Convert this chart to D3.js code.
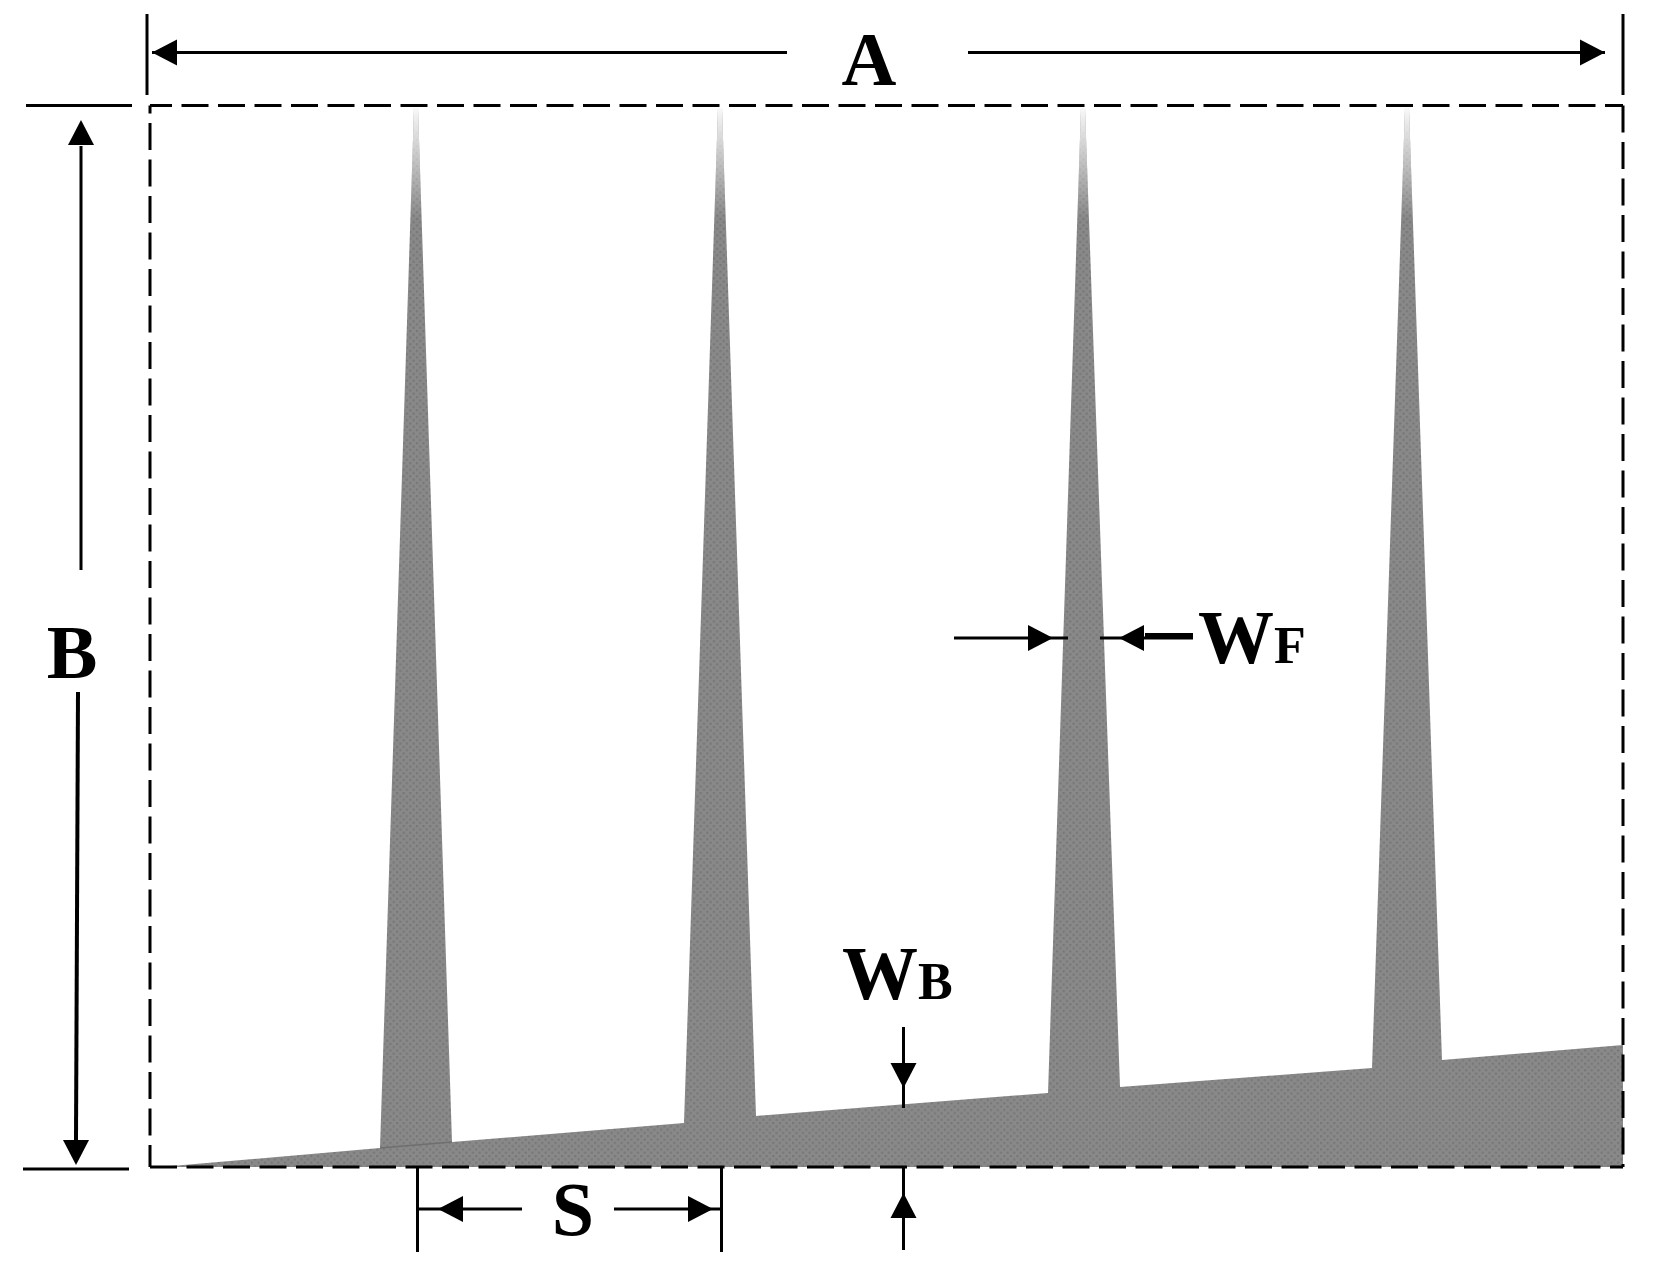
<!DOCTYPE html>
<html>
<head>
<meta charset="utf-8">
<script src="https://cdn.jsdelivr.net/npm/d3@7"></script>
<style>
  html, body { margin: 0; padding: 0; background: #fff; }
  text { font-family: "Liberation Serif", serif; font-weight: bold; fill: #000; }
</style>
</head>
<body>
<div id="chart"></div>
<script>
// profile values, in drawing units (A wide, B high)
const boxA = 1473;
const boxB = 1061.5;
const baseStart = 10;
const baseEndHeight = 122;
const finTip = [266, 570, 933, 1257];
const finTipHeight = [1059, 1059, 1059, 1059];
const finFootLeft = [230, 534, 898, 1222];
const finFootRight = [302, 606, 970, 1292];
const finFootLeftHeight = [19, 44, 74, 99];
const finFootRightHeight = [25, 51, 80, 107];

// dimension lines: [u1, v1, u2, v2]
const extensionLines = [
  [-3, 1153, -3, 1072], [1473, 1153, 1473, 1072],
  [-124, 1061.5, -18, 1061.5], [-127, -2, -21, -2],
  [267.5, 0, 267.5, -85], [571.5, 0, 571.5, -85]
];
const dimensionLines = [
  [2, 1114.5, 637, 1114.5], [818, 1114.5, 1455, 1114.5],
  [-69, 1021, -69, 597],
  [267.5, -42, 372, -42], [464, -42, 571.5, -42],
  [804, 529, 918, 529], [950, 529, 1043, 529],
  [753.5, 140, 753.5, 59], [753.5, -1, 753.5, -83]
];
const heavyLines = [[-72, 475, -74, 27]];
const stubLines = [[995, 531, 1043, 531]];
// arrowheads: tip position and direction
const arrowTipU = [2, 1455, -69, -74, 288, 563, 903, 969, 753.5, 753.5];
const arrowTipV = [1114.5, 1114.5, 1047, 2, -42, -42, 529, 529, 79, -26];
const arrowDir = ['left', 'right', 'up', 'down', 'left', 'right', 'right', 'left', 'down', 'up'];

const labels = [
  { text: 'A', u: 719, v: 1082.5, anchor: 'middle' },
  { text: 'B', u: -78, v: 489, anchor: 'middle' },
  { text: 'S', u: 423, v: -68, anchor: 'middle' },
  { text: 'W', sub: 'F', u: 1048, v: 504, anchor: 'start' },
  { text: 'W', sub: 'B', u: 692, v: 168, anchor: 'start' }
];

const width = 1656, height = 1263;
const x = d3.scaleLinear().domain([0, boxA]).range([150, 1623]);
const y = d3.scaleLinear().domain([0, boxB]).range([1167, 105.5]);

const svg = d3.select('#chart').append('svg')
  .attr('width', width).attr('height', height)
  .style('display', 'block');

const defs = svg.append('defs');
const stipple = defs.append('pattern').attr('id', 'stipple')
  .attr('width', 6.6).attr('height', 6.6).attr('patternUnits', 'userSpaceOnUse');
stipple.append('rect').attr('width', 6.6).attr('height', 6.6).attr('fill', '#898989');
stipple.append('rect').attr('x', 0).attr('y', 0).attr('width', 2.2).attr('height', 2.2).attr('fill', '#777777');
stipple.append('rect').attr('x', 3.3).attr('y', 3.3).attr('width', 2.2).attr('height', 2.2).attr('fill', '#777777');

const fade = defs.append('linearGradient').attr('id', 'tipFade')
  .attr('gradientUnits', 'userSpaceOnUse')
  .attr('x1', 0).attr('x2', 0).attr('y1', y(finTipHeight[0])).attr('y2', y(finTipHeight[0]) + 110);
fade.append('stop').attr('offset', 0).attr('stop-color', '#fff').attr('stop-opacity', 0.95);
fade.append('stop').attr('offset', 1).attr('stop-color', '#fff').attr('stop-opacity', 0);

// section outline, left to right along the base and over each fin
const outline = [[baseStart, 0]];
finTip.forEach((t, i) => {
  outline.push([finFootLeft[i], finFootLeftHeight[i]]);
  outline.push([t - 2, finTipHeight[i]]);
  outline.push([t + 2, finTipHeight[i]]);
  outline.push([finFootRight[i], finFootRightHeight[i]]);
});
outline.push([boxA, baseEndHeight], [boxA, 0]);

const line = d3.line().x(d => x(d[0])).y(d => y(d[1]));
svg.append('path').attr('d', line(outline) + 'Z').attr('fill', 'url(#stipple)');
svg.append('path').attr('d', line(outline) + 'Z').attr('fill', 'url(#tipFade)');

// base edge showing through the first fin
svg.append('line')
  .attr('x1', x(finFootLeft[0])).attr('y1', y(finFootLeftHeight[0]))
  .attr('x2', x(finFootRight[0])).attr('y2', y(finFootRightHeight[0]))
  .attr('stroke', '#6f6f6f').attr('stroke-width', 1.5);

// dashed box, each side has its own dash phase
const boxSides = [[0, boxB, boxA, boxB], [0, boxB, 0, 0], [0, 0, boxA, 0], [boxA, boxB, boxA, 0]];
const boxPhase = [5, 19, 0, 0];
svg.append('g').selectAll('line').data(boxSides).join('line')
  .attr('x1', d => x(d[0])).attr('y1', d => y(d[1]))
  .attr('x2', d => x(d[2])).attr('y2', d => y(d[3]))
  .attr('stroke', '#000').attr('stroke-width', 3)
  .attr('stroke-dasharray', '27 9.5')
  .attr('stroke-dashoffset', (d, i) => boxPhase[i]);

function drawLines(rows, w) {
  svg.append('g').selectAll('line').data(rows).join('line')
    .attr('x1', d => x(d[0])).attr('y1', d => y(d[1]))
    .attr('x2', d => x(d[2])).attr('y2', d => y(d[3]))
    .attr('stroke', '#000').attr('stroke-width', w);
}
drawLines(extensionLines, 3);
drawLines(dimensionLines, 3);
drawLines(heavyLines, 4);
drawLines(stubLines, 6);

const headLen = 25, headHalf = 13;
const dirs = { left: [1, 0], right: [-1, 0], up: [0, 1], down: [0, -1] };
svg.append('g').selectAll('path').data(arrowTipU).join('path')
  .attr('fill', '#000')
  .attr('d', (u, i) => {
    const px = x(u), py = y(arrowTipV[i]);
    const [dx, dy] = dirs[arrowDir[i]];
    const bx = px + dx * headLen, by = py + dy * headLen;
    return `M${px},${py}L${bx + dy * headHalf},${by + dx * headHalf}L${bx - dy * headHalf},${by - dx * headHalf}Z`;
  });

const txt = svg.append('g').selectAll('text').data(labels).join('text')
  .attr('x', d => x(d.u)).attr('y', d => y(d.v))
  .attr('text-anchor', d => d.anchor)
  .attr('font-size', 76)
  .text(d => d.text);
txt.filter(d => d.sub).append('tspan')
  .attr('font-size', 52)
  .text(d => d.sub);
</script>
</body>
</html>
